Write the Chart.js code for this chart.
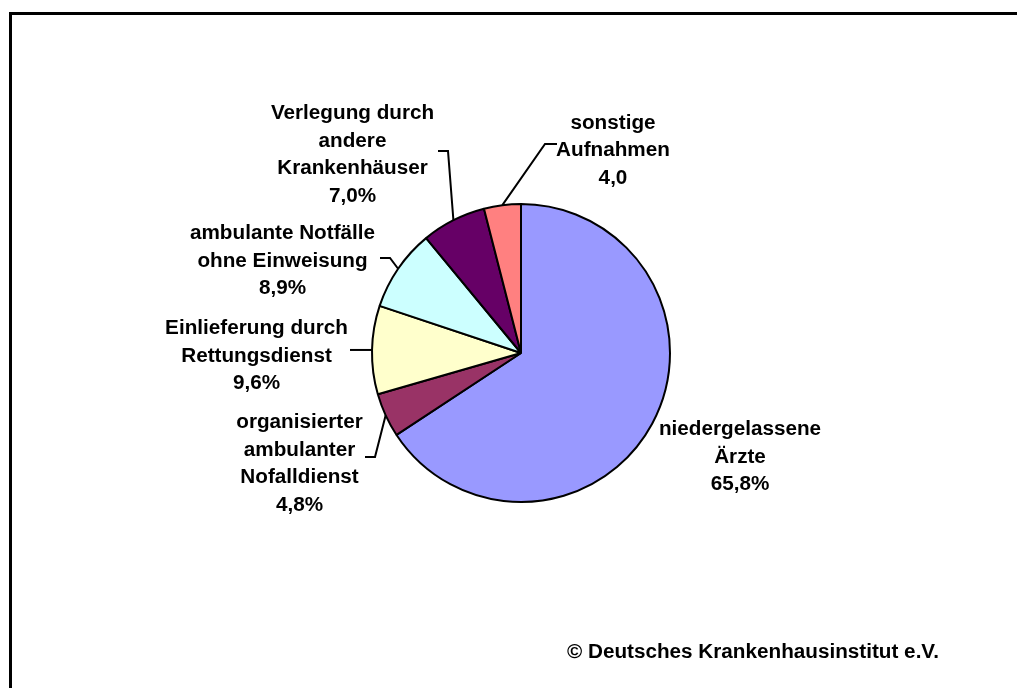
<!DOCTYPE html>
<html>
<head>
<meta charset="utf-8">
<script src="https://cdn.jsdelivr.net/npm/chart.js@4/dist/chart.umd.min.js"></script>
<style>
  html, body { margin: 0; padding: 0; background: #ffffff; }
  #wrap { width: 1017px; height: 688px; position: relative; }
</style>
</head>
<body>
<div id="wrap"><canvas id="c" width="1017" height="688"></canvas></div>
<script>
// ---- data ----
const categories = [
  ["niedergelassene", "Ärzte"],
  ["organisierter", "ambulanter", "Nofalldienst"],
  ["Einlieferung durch", "Rettungsdienst"],
  ["ambulante Notfälle", "ohne Einweisung"],
  ["Verlegung durch", "andere", "Krankenhäuser"],
  ["sonstige", "Aufnahmen"]
];
const values = [65.8, 4.8, 9.6, 8.9, 7.0, 4.0];
const valueLabels = ["65,8%", "4,8%", "9,6%", "8,9%", "7,0%", "4,0"];
const sliceColors = ["#9999FF", "#993366", "#FFFFCC", "#CCFFFF", "#660066", "#FF8080"];
const sourceNote = "© Deutsches Krankenhausinstitut e.V.";

// ---- label layout (offsets from the pie centre) ----
const labelLayout = [
  { dx: 219,    dy: 82,   leader: null },
  { dx: -221.5, dy: 75,   leader: [[-146, 104], [-156, 104]] },
  { dx: -264.5, dy: -19,  leader: [[-171, null]] },
  { dx: -238.5, dy: -114, leader: [[-131, -95], [-141, -95]] },
  { dx: -168.5, dy: -234, leader: [[-73, -202], [-83, -202]] },
  { dx: 92,     dy: -224.5, leader: [[24, -209], [36, -209]] }
];
const FONT = "bold 20.7px 'Liberation Sans', Arial, sans-serif";
const LINE_H = 27.5;

const labelPlugin = {
  id: 'labels',
  afterDatasetsDraw(chart) {
    const ctx = chart.ctx;
    const meta = chart.getDatasetMeta(0);
    ctx.save();
    // frame
    ctx.strokeStyle = '#000';
    ctx.lineWidth = 3;
    ctx.beginPath();
    ctx.moveTo(10.5, 700);
    ctx.lineTo(10.5, 13.5);
    ctx.lineTo(1030, 13.5);
    ctx.stroke();

    meta.data.forEach((arc, i) => {
      const cx = arc.x, cy = arc.y;
      const lay = labelLayout[i];
      if (lay.leader) {
        const mid = (arc.startAngle + arc.endAngle) / 2;
        const r = arc.outerRadius;
        const px = cx + Math.cos(mid) * r;
        const py = cy + Math.sin(mid) * r;
        ctx.strokeStyle = '#000';
        ctx.lineWidth = 2;
        ctx.beginPath();
        ctx.moveTo(px, py);
        lay.leader.forEach(p => {
          ctx.lineTo(cx + p[0], p[1] === null ? py : cy + p[1]);
        });
        ctx.stroke();
      }
      const lines = categories[i].concat([valueLabels[i]]);
      ctx.fillStyle = '#000';
      ctx.font = FONT;
      ctx.textAlign = 'center';
      ctx.textBaseline = 'alphabetic';
      lines.forEach((t, k) => {
        ctx.fillText(t, cx + lay.dx, cy + lay.dy + k * LINE_H);
      });
    });

    ctx.font = FONT;
    ctx.textAlign = 'left';
    ctx.textBaseline = 'alphabetic';
    ctx.fillStyle = '#000';
    ctx.fillText(sourceNote, 567, 658);
    ctx.restore();
  }
};

new Chart(document.getElementById('c'), {
  type: 'pie',
  data: {
    labels: categories.map(c => c.join(' ')),
    datasets: [{
      data: values,
      backgroundColor: sliceColors,
      borderColor: '#000000',
      borderWidth: 2,
      radius: 149
    }]
  },
  options: {
    responsive: false,
    animation: false,
    layout: { padding: { left: 25, right: 0, top: 18, bottom: 0 } },
    plugins: {
      legend: { display: false },
      tooltip: { enabled: false },
      title: { display: false }
    }
  },
  plugins: [labelPlugin]
});
</script>
</body>
</html>
